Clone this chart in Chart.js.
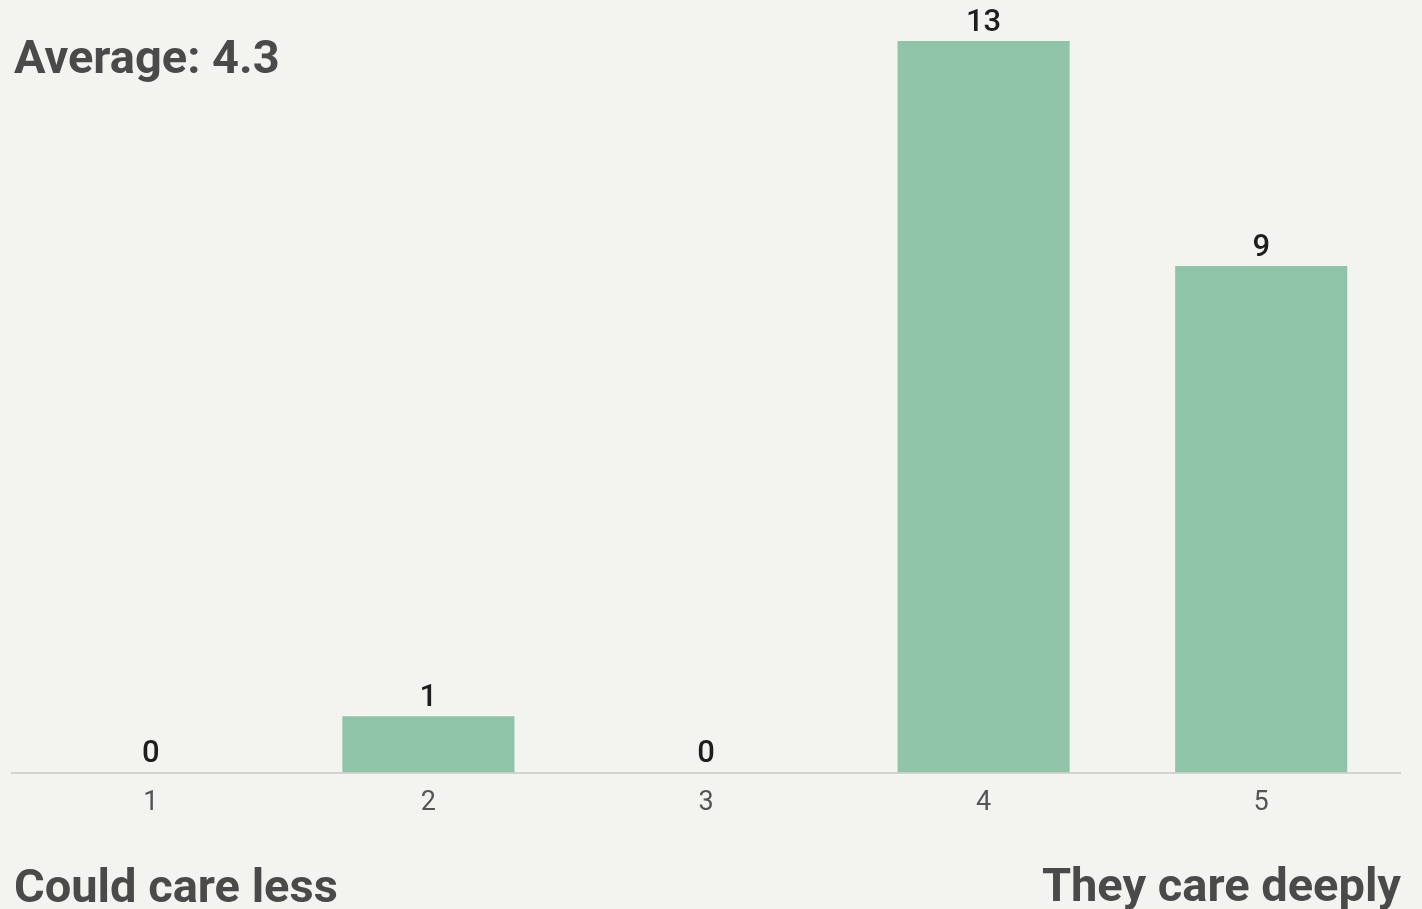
<!DOCTYPE html>
<html>
<head>
<meta charset="utf-8">
<script src="https://cdn.jsdelivr.net/npm/chart.js@4"></script>
<style>
  body { margin: 0; background: #f3f4ef; }
  #wrap { position: relative; width: 1422px; height: 909px; }
  .note { position: absolute; font-family: Roboto, sans-serif; font-weight: bold;
          font-size: 47px; line-height: 47px; color: #4a4a4a; white-space: nowrap; }
</style>
</head>
<body>
<div id="wrap">
  <canvas id="ratingChart" width="1422" height="909"></canvas>
  <div class="note" style="left:14px; top:33px;">Average: 4.3</div>
  <div class="note" style="left:14px; top:862px;">Could care less</div>
  <div class="note" style="right:21px; top:861px;">They care deeply</div>
</div>
<script>
const ratings = ['1', '2', '3', '4', '5'];
const responses = [0, 1, 0, 13, 9];

// count above each bar
const barValues = {
    id: 'barValues',
    afterDatasetsDraw(chart) {
        const ctx = chart.ctx;
        const meta = chart.getDatasetMeta(0);
        ctx.save();
        ctx.font = '500 31px Roboto, sans-serif';
        ctx.fillStyle = '#1e1e1e';
        ctx.textAlign = 'center';
        ctx.textBaseline = 'middle';
        meta.data.forEach((bar, i) => {
            ctx.fillText(responses[i], bar.x, bar.y - 18);
        });
        ctx.restore();
    }
};

const ratingCtx = document.getElementById('ratingChart');

new Chart(ratingCtx, {
    type: 'bar',
    data: {
        labels: ratings,
        datasets: [{
            data: responses,
            backgroundColor: '#8fc4a9',
            categoryPercentage: 1,
            barPercentage: 0.62
        }]
    },
    options: {
        responsive: false,
        animation: false,
        layout: {
            padding: { left: 12, right: 22, top: 41, bottom: 76 }
        },
        plugins: {
            legend: { display: false },
            tooltip: { enabled: false }
        },
        scales: {
            x: {
                grid: { display: false, drawTicks: false },
                border: { color: '#d3d3cf', width: 2 },
                ticks: {
                    padding: 14,
                    color: '#555',
                    font: { family: 'Roboto', size: 27 }
                }
            },
            y: {
                display: false,
                min: 0,
                max: 13
            }
        }
    },
    plugins: [barValues]
});
</script>
</body>
</html>
